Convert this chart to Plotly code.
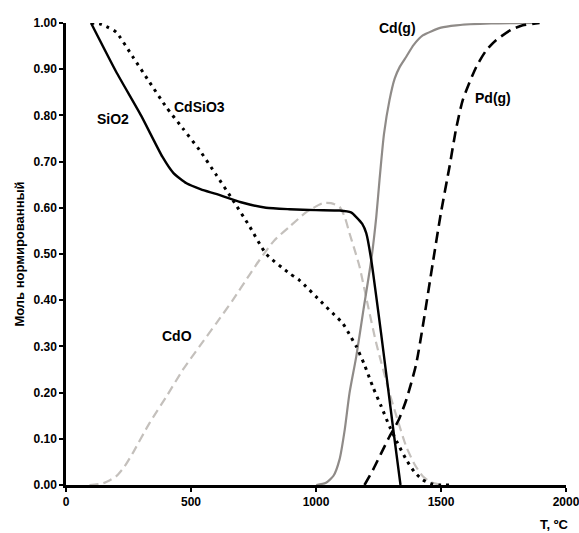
import plotly.graph_objects as go

# ---- data ----
sio2_T = [100, 200, 300, 386, 430, 482, 540, 600, 700, 800, 894, 1000, 1094, 1140, 1161, 1185, 1201, 1221, 1260, 1311, 1338]
sio2_y = [1.0, 0.895, 0.80, 0.71, 0.675, 0.653, 0.64, 0.63, 0.612, 0.60, 0.597, 0.595, 0.594, 0.59, 0.58, 0.565, 0.545, 0.487, 0.33, 0.112, 0.0]

cdsio3_T = [100, 134, 170, 201, 267, 334, 401, 467, 534, 600, 667, 734, 801, 894, 934, 1027, 1074, 1107, 1140, 1161, 1194, 1227, 1261, 1294, 1327, 1361, 1394, 1427, 1460, 1494, 1550]
cdsio3_y = [1.0, 0.998, 0.99, 0.98, 0.927, 0.872, 0.818, 0.772, 0.725, 0.672, 0.617, 0.56, 0.50, 0.458, 0.443, 0.393, 0.368, 0.35, 0.32, 0.30, 0.26, 0.213, 0.17, 0.127, 0.09, 0.055, 0.028, 0.011, 0.003, 0.0, 0.0]

cdo_T = [94, 150, 201, 234, 267, 334, 400, 467, 534, 601, 667, 734, 774, 834, 894, 960, 1027, 1060, 1094, 1115, 1134, 1154, 1174, 1207, 1241, 1294, 1327, 1361, 1394, 1427, 1460, 1500]
cdo_y = [0.0, 0.004, 0.019, 0.04, 0.069, 0.134, 0.19, 0.249, 0.30, 0.35, 0.40, 0.455, 0.487, 0.53, 0.559, 0.59, 0.61, 0.61, 0.602, 0.58, 0.545, 0.51, 0.473, 0.39, 0.307, 0.199, 0.14, 0.083, 0.045, 0.019, 0.006, 0.0]

cdg_T = [1001, 1040, 1070, 1094, 1115, 1134, 1161, 1190, 1221, 1241, 1254, 1272, 1294, 1315, 1335, 1361, 1390, 1427, 1500, 1561, 1700, 1894]
cdg_y = [0.0, 0.005, 0.02, 0.055, 0.12, 0.199, 0.278, 0.38, 0.487, 0.58, 0.66, 0.76, 0.833, 0.88, 0.905, 0.927, 0.952, 0.973, 0.99, 0.995, 0.999, 1.0]

pdg_T = [1194, 1230, 1260, 1294, 1330, 1361, 1400, 1427, 1467, 1500, 1534, 1560, 1587, 1641, 1680, 1721, 1780, 1827, 1894]
pdg_y = [0.0, 0.035, 0.068, 0.105, 0.14, 0.184, 0.26, 0.343, 0.48, 0.59, 0.689, 0.77, 0.833, 0.905, 0.94, 0.963, 0.985, 0.995, 1.0]

labels = ["SiO2", "CdSiO3", "CdO", "Cd(g)", "Pd(g)"]
label_T = [187, 534, 442, 1326, 1707]
label_y = [0.793, 0.818, 0.323, 0.99, 0.837]

x_ticks = [0, 500, 1000, 1500, 2000]
y_ticks = [0.0, 0.1, 0.2, 0.3, 0.4, 0.5, 0.6, 0.7, 0.8, 0.9, 1.0]

FONT = "Liberation Sans, Arial, sans-serif"

fig = go.Figure()
fig.add_trace(go.Scatter(x=cdo_T, y=cdo_y, mode="lines", line=dict(color="#c4c0bc", width=2.2, dash="9px,5px", shape="spline", smoothing=0.6)))
fig.add_trace(go.Scatter(x=cdg_T, y=cdg_y, mode="lines", line=dict(color="#8f8b88", width=2.2, shape="spline", smoothing=0.6)))
fig.add_trace(go.Scatter(x=cdsio3_T, y=cdsio3_y, mode="lines", line=dict(color="black", width=3, dash="3px,5px", shape="spline", smoothing=0.6)))
fig.add_trace(go.Scatter(x=sio2_T, y=sio2_y, mode="lines", line=dict(color="black", width=2.4, shape="spline", smoothing=0.5)))
fig.add_trace(go.Scatter(x=pdg_T, y=pdg_y, mode="lines", line=dict(color="black", width=2.6, dash="11px,6px", shape="spline", smoothing=0.6)))

for t, xx, yy in zip(labels, label_T, label_y):
    fig.add_annotation(x=xx, y=yy, text="<b>%s</b>" % t, showarrow=False,
                       font=dict(family=FONT, size=14, color="black"))

fig.add_annotation(x=1.0, y=0, xref="paper", yref="paper", xanchor="center", yanchor="top",
                   yshift=-30, xshift=-12, text="<b>T, ºC</b>", showarrow=False,
                   font=dict(family=FONT, size=13, color="black"))

fig.update_layout(
    width=579, height=533,
    margin=dict(l=66, r=13, t=23, b=48, autoexpand=False),
    paper_bgcolor="white", plot_bgcolor="white",
    showlegend=False,
    font=dict(family=FONT, size=12, color="black"),
)
fig.update_xaxes(range=[0, 2000], tickvals=x_ticks, ticktext=["<b>%d</b>" % v for v in x_ticks],
                 showgrid=False, zeroline=False, showline=True, linecolor="black", linewidth=2.5,
                 ticks="outside", ticklen=4, tickwidth=2, tickcolor="black", automargin=False,
                 ticklabeloverflow="allow",
                 tickfont=dict(family=FONT, size=12, color="black"))
fig.update_yaxes(range=[0, 1.0], tickvals=y_ticks, ticktext=["<b>%.2f</b>" % v for v in y_ticks],
                 showgrid=False, zeroline=False, showline=True, linecolor="black", linewidth=2.5,
                 ticks="outside", ticklen=4, tickwidth=2, tickcolor="black", automargin=False,
                 ticklabeloverflow="allow",
                 tickfont=dict(family=FONT, size=12, color="black"),
                 title=dict(text="<b>Моль нормированный</b>", font=dict(family=FONT, size=13, color="black"), standoff=6))

# remove the page's default body margin so the figure fills the window exactly
fig.write_html("out.html", config={"displayModeBar": False},
               post_script="document.body.style.margin='0';document.body.style.overflow='hidden';")
